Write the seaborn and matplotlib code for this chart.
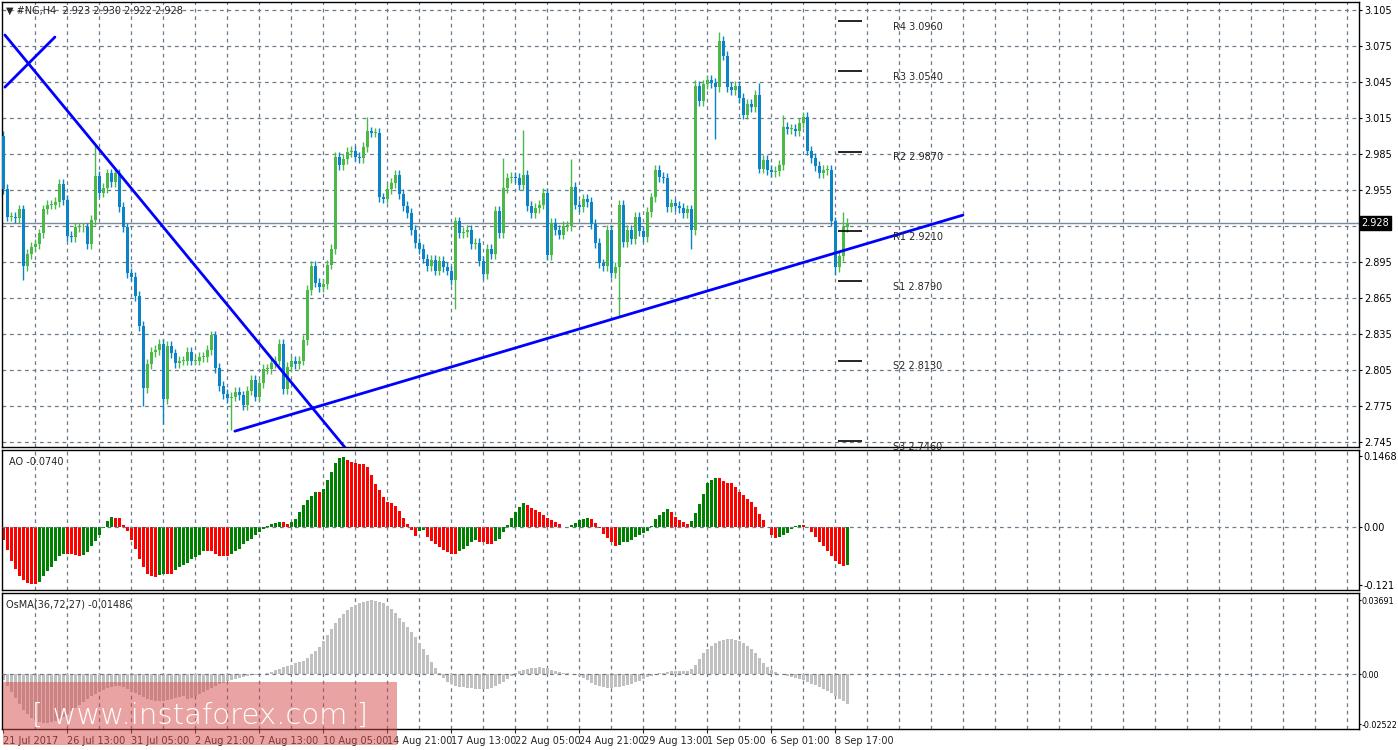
import numpy as np
import pandas as pd
import seaborn as sns
import matplotlib
matplotlib.use("Agg")
import matplotlib.pyplot as plt
from matplotlib.patches import Rectangle

sns.set_style("white")
plt.rcParams['font.family'] = ['DejaVu Sans']

# ---------------- data ----------------
closes = [2.956,2.933,2.933,2.932,2.939,2.892,2.902,2.908,2.910,2.919,
2.939,2.943,2.943,2.945,2.960,2.947,2.917,2.916,2.924,2.924,
2.924,2.910,2.930,2.967,2.953,2.957,2.969,2.962,2.969,2.941,
2.924,2.886,2.883,2.867,2.842,2.790,2.810,2.820,2.822,2.827,
2.781,2.825,2.819,2.811,2.813,2.813,2.820,2.813,2.813,2.816,
2.816,2.822,2.834,2.807,2.792,2.785,2.782,2.783,2.787,2.784,
2.776,2.788,2.797,2.783,2.794,2.806,2.806,2.811,2.813,2.827,
2.789,2.808,2.813,2.810,2.813,2.830,2.872,2.892,2.878,2.874,
2.877,2.893,2.906,2.983,2.976,2.981,2.987,2.988,2.983,2.982,
2.991,3.004,3.003,3.003,2.949,2.948,2.956,2.961,2.968,2.952,
2.942,2.936,2.922,2.911,2.906,2.898,2.892,2.897,2.888,2.896,
2.891,2.888,2.880,2.929,2.919,2.920,2.922,2.910,2.911,2.896,
2.885,2.906,2.902,2.938,2.919,2.957,2.965,2.966,2.965,2.959,
2.968,2.942,2.936,2.940,2.943,2.953,2.901,2.928,2.922,2.918,
2.925,2.925,2.958,2.943,2.941,2.948,2.945,2.927,2.911,2.894,
2.892,2.922,2.886,2.891,2.943,2.912,2.922,2.914,2.933,2.921,
2.916,2.937,2.949,2.972,2.966,2.965,2.941,2.944,2.942,2.940,
2.936,2.939,2.922,3.042,3.029,3.043,3.047,3.044,3.041,3.079,
3.067,3.041,3.038,3.042,3.032,3.018,3.027,3.024,3.034,2.973,
2.980,2.972,2.970,2.971,2.976,3.008,3.006,3.006,3.004,3.011,
3.016,2.988,2.982,2.975,2.969,2.972,2.972,2.929,2.891,2.900,
2.924,2.928]
first_open = 3.000
extreme_highs = {23: 2.992, 91: 3.016, 125: 2.982, 130: 3.005, 142: 2.981,
                 173: 3.047, 179: 3.087, 189: 3.044, 195: 3.018, 201: 3.020, 210: 2.937}
extreme_lows = {35: 2.775, 40: 2.760, 57: 2.755, 113: 2.856, 154: 2.849,
                178: 2.998, 172: 2.906, 208: 2.884, 5: 2.880}
wick = 0.004

ao = [-28.7,-49.7,-70.7,-87.5,-102,-111,-118,-120,-120,-115,-103,-92,-83,-71,-61,-58,-58,-58,-60,-62,
-60,-52,-41,-29,-18,-4,12,19,17,17,4,-10,-27,-46,-68,-83,-99,-102,-104,-100,
-99,-99,-99,-90,-85,-80,-75,-68,-64,-60,-50,-50,-50,-58,-61,-62,-62,-57,-50,-46,
-37,-30,-25,-18,-12,-6,2,6,8,10,10,6,10,16,30,44,55,64,71,71,
79,97,114,132,142,145,139,134,131,130,130,123,107,89,75,61,50,48,43,33,
18,6,-8,-19,-10,-8,-22,-29,-36,-43,-48,-52,-57,-57,-50,-46,-40,-32,-27,-32,
-33,-36,-36,-29,-25,-12,3,18,30,41,48,44,39,34,31,23,18,14,10,6,
-1,-1,3,8,13,15,17,15,8,-4,-15,-23,-32,-40,-38,-33,-32,-27,-22,-18,
-13,-10,2,15,23,30,36,31,19,13,10,6,12,29,46,67,90,96,100,100,
95,90,90,82,71,65,57,51,40,27,13,-1,-17,-24,-22,-17,-13,-5,1,4,
3,-1,-11,-22,-32,-41,-50,-61,-71,-78,-82,-80]

osma = [-3,-6,-9,-12,-15,-18,-20,-22,-23,-24,-24.5,-24.5,-24,
-23.5,-22.5,-21.5,-20,-18.5,-17,-15.5,-14,-12.5,-11,-10,-9,-8,-7,-6.5,-6,-6,
-6.5,-7.5,-8.5,-9.5,-10.5,-11.5,-12.5,-13,-13.5,-13.5,-13.5,-13,-12.5,-12,-11.5,-11,
-12.5,-12,-11,-10,-9,-8,-7,-6,-5,-4.3,-3.6,-3,-2.5,-2,-1.5,-1.1,-0.7,-0.4,-0.2,0,0.3,
1,2,2.7,3.4,4,4.7,5.3,6,6.7,8,9.8,11.7,13.7,16.5,19.5,22.5,25.3,28,30,31.8,33.3,34.6,35.5,36.2,36.7,36.9,
36.7,36.2,35.3,34,32.4,30.4,28.2,25.8,23.3,21,18.7,15.7,12.6,9.4,6.2,3,0.3,
-2,-3.8,-5,-5.8,-6.3,-6.7,-7,-7.2,-7.4,-7.5,-7.5,-7.3,-6.8,-6,-5,-3.8,-2.3,-0.8,
0.5,1.3,2,2.6,3,3.2,3.3,3.2,2.8,2.2,1.5,0.9,0.5,0.3,
0.1,-0.3,-1,-2,-3.2,-4.3,-5.3,-6,-6.5,-6.8,-6.8,-6.7,-6.5,-6.1,-5.6,-5,-4.2,-3.3,-2.4,-1.5,-0.8,-0.3,
0.3,0.7,1,1.3,1.5,1.6,1.6,1.6,2.5,
4.5,7.5,10.5,12.5,14,15.5,16.5,17.2,17.5,17.5,17.2,16.6,15.6,14.2,12.5,10.5,8,5.5,3.3,1.8,0.8,0.2,-0.3,
-0.8,-1.3,-1.8,-2.4,-3.2,-4,-4.8,-5.7,-6.6,-7.6,-8.6,-9.7,-11,-12.3,-13.6,-14.9]

date_labels = ["21 Jul 2017","26 Jul 13:00","31 Jul 05:00","2 Aug 21:00","7 Aug 13:00",
               "10 Aug 05:00","14 Aug 21:00","17 Aug 13:00","22 Aug 05:00","24 Aug 21:00",
               "29 Aug 13:00","1 Sep 05:00","6 Sep 01:00","8 Sep 17:00"]
date_idx = [0,16,32,48,64,80,96,112,128,144,160,176,192,208]

price_ticks = [3.105,3.075,3.045,3.015,2.985,2.955,2.925,2.895,2.865,2.835,2.805,2.775,2.745]
pivot_names = ["R4","R3","R2","R1","S1","S2","S3"]
pivot_vals = [3.0960,3.0540,2.9870,2.9210,2.8790,2.8130,2.7460]
trend_lines = [((0.4, 3.0842), (85.4, 2.7408)),
               ((0.4, 3.0408), (12.9, 3.0825)),
               ((57.9, 2.7543), (239.9, 2.9342))]
last_price = 2.928

# ---------------- layout ----------------
W, H = 1398, 750
FS = 7
fig = plt.figure(figsize=(W/100, H/100), dpi=100)
fig.patch.set_facecolor("white")
def axpx(x0, y0, x1, y1):
    return fig.add_axes([x0/W, 1-y1/H, (x1-x0)/W, (y1-y0)/H])
ax1 = axpx(2, 2, 1359, 447)
ax2 = axpx(2, 450, 1359, 590)
ax3 = axpx(2, 593, 1359, 729)
XMIN, XMAX = -0.325, -0.325 + 1357/4
GRID = "#6c7b8b"
n = len(closes)
idx = np.arange(n)
opens = [first_open] + closes[:-1]

for ax in (ax1, ax2, ax3):
    ax.set_xlim(XMIN, XMAX)
    for s in ax.spines.values():
        s.set_color("black"); s.set_linewidth(1.0)
    ax.yaxis.tick_right()
    ax.tick_params(axis='y', labelsize=FS, length=2, pad=1.5, colors='black')
    ax.set_xticks([])
    for g in range(8, 340, 8):
        ax.axvline(g, color=GRID, ls=(0, (3, 3)), lw=0.9, zorder=0)

# main
ax1.set_ylim(2.7411, 3.1117)
ax1.set_yticks(price_ticks)
ax1.set_yticklabels([f"{t:.3f}" for t in price_ticks])
for t in price_ticks:
    ax1.axhline(t, color=GRID, ls=(0, (3, 3)), lw=0.9, zorder=0)
up_c, dn_c = "#4cb848", "#0a84c6"
for i in range(n):
    o, c = opens[i], closes[i]
    hi = extreme_highs.get(i, max(o, c) + wick)
    lo = extreme_lows.get(i, min(o, c) - wick)
    col = up_c if c >= o else dn_c
    ax1.vlines(i, lo, hi, color=col, lw=1, zorder=2)
    ax1.add_patch(Rectangle((i-0.33, min(o, c)), 0.66, max(abs(c-o), 0.0006),
                            color=col, lw=0, zorder=3))
ax1.axhline(last_price, color="#7a8a98", lw=1, zorder=1)
for (a, b) in trend_lines:
    sns.lineplot(x=[a[0], b[0]], y=[a[1], b[1]], ax=ax1, color="#0000ff", lw=2, zorder=4)
for name, v in zip(pivot_names, pivot_vals):
    ax1.hlines(v, 208.7, 214.7, color="black", lw=1.2, zorder=4)
    ax1.text(222.4, v - 0.0048, f"{name} {v:.4f}", fontsize=FS, va='center', ha='left', zorder=5)
ax1.text(0.003, 0.992, "\u25bc #NG,H4  2.923 2.930 2.922 2.928", transform=ax1.transAxes,
         fontsize=FS, va='top', ha='left')
ax1.text(1.002, last_price, f"{last_price:.3f}", transform=ax1.get_yaxis_transform(),
         fontsize=FS, color='white', va='center', ha='left', zorder=10,
         bbox=dict(boxstyle='square,pad=0.2', fc='black', ec='black'))

# AO
ao_v = np.array(ao) / 1000
ao_col = ["#008000" if (i > 0 and ao_v[i] > ao_v[i-1]) else "#ff0000" for i in range(n)]
ao_df = pd.DataFrame({"i": idx, "v": ao_v, "c": ao_col})
sns.barplot(data=ao_df, x="i", y="v", hue="c", palette={"#008000": "#008000", "#ff0000": "#ff0000"},
            native_scale=True, dodge=False, width=0.75, legend=False, ax=ax2,
            saturation=1, linewidth=0, zorder=2)
ax2.set_xlim(XMIN, XMAX)
ax2.set_ylim(-0.1318, 0.1590)
ax2.axhline(0, color=GRID, ls=(0, (3, 3)), lw=0.9, zorder=3)
ax2.set_yticks([0.1468, 0.0, -0.121]); ax2.set_yticklabels(["0.1468", "0.00", "-0.121"])
ax2.set_xlabel(""); ax2.set_ylabel("")
ax2.set_xticks([])
ax2.text(0.005, 0.95, "AO -0.0740", transform=ax2.transAxes, fontsize=FS, va='top')

# OsMA
os_v = np.array(osma) / 1000
os_df = pd.DataFrame({"i": idx, "v": os_v})
sns.barplot(data=os_df, x="i", y="v", color="#c0c0c0", native_scale=True, width=0.6,
            ax=ax3, saturation=1, linewidth=0, zorder=2)
ax3.set_xlim(XMIN, XMAX)
ax3.set_ylim(-0.0275, 0.0405)
ax3.axhline(0, color=GRID, ls=(0, (3, 3)), lw=0.9, zorder=3)
ax3.set_yticks([0.03691, 0.0, -0.02522]); ax3.set_yticklabels(["0.03691", "0.00", "-0.02522"])
ax3.tick_params(axis='y', labelsize=5.8, pad=0.5, length=1.5)
ax3.set_xlabel(""); ax3.set_ylabel("")
ax3.set_xticks(date_idx)
ax3.set_xticklabels(date_labels, fontsize=FS, ha='left')
ax3.tick_params(axis='x', length=3, pad=2, bottom=True)
ax3.text(0.003, 0.95, "OsMA(36,72,27) -0.01486", transform=ax3.transAxes, fontsize=FS, va='top')

# watermark
fig.patches.append(Rectangle((3/W, 1-745/H), 394/W, 63/H, transform=fig.transFigure,
                             facecolor="#d44848", alpha=0.5, edgecolor='none', zorder=20))
fig.text(200/W, 1-716/H, "[ www.instaforex.com ]", fontsize=21, color="white",
         ha='center', va='center', zorder=21, fontweight='light')

fig.savefig("out.png", dpi=100, facecolor="white")
